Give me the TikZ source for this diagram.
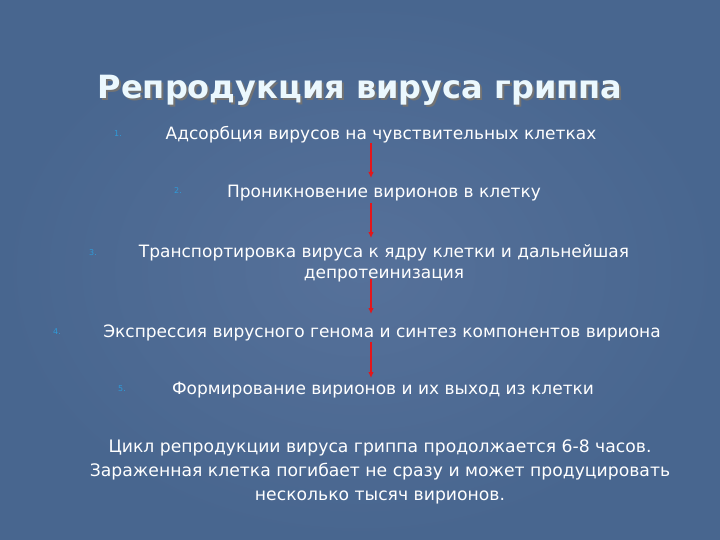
\documentclass[tikz,border=0pt]{standalone}
\usepackage{fontspec}
\setmainfont{DejaVu Sans}
\usetikzlibrary{arrows.meta}

\definecolor{bgin}{HTML}{56719A}
\definecolor{bgout}{HTML}{48668F}
\definecolor{numblue}{HTML}{2F9AD8}
\definecolor{arrred}{HTML}{E3161B}

\begin{document}
\begin{tikzpicture}
  [x=1pt,y=-1pt,
   every node/.style={text=white,inner sep=0pt,anchor=base},
   stage/.style={font=\fontsize{17}{21}\selectfont,align=center},
   note/.style={font=\fontsize{17.2}{24}\selectfont,align=center},
   num/.style={text=numblue,font=\fontsize{8}{9}\selectfont},
   flow/.style={draw=arrred,line width=2.4pt,-{Latex[length=6pt,width=5.5pt]}}]
  \useasboundingbox (0,0) rectangle (720,540);
  \shade[inner color=bgin,outer color=bgout] (0,0) rectangle (720,540);

  \node[font=\fontsize{32}{36}\selectfont\bfseries,text=black!55] (shadow) at (362,101) {Репродукция вируса гриппа};
  \node[font=\fontsize{32}{36}\selectfont\bfseries,text=white!92!cyan] (title) at (360,99) {Репродукция вируса гриппа};

  \node[stage] (s1) at (381,140) {Адсорбция вирусов на чувствительных клетках};
  \node[stage] (s2) at (384,197) {Проникновение вирионов в клетку};
  \node[stage] (s3) at (384,278) {Транспортировка вируса к ядру клетки и дальнейшая\\депротеинизация};
  \node[stage] (s4) at (382,337) {Экспрессия вирусного генома и синтез компонентов вириона};
  \node[stage] (s5) at (383,394) {Формирование вирионов и их выход из клетки};

  \node[num] (n1) at (118,137) {1.};
  \node[num] (n2) at (178,194) {2.};
  \node[num] (n3) at (93,255) {3.};
  \node[num] (n4) at (57,334) {4.};
  \node[num] (n5) at (122,391) {5.};

  \node[note] (summary) at (380,500) {Цикл репродукции вируса гриппа продолжается 6-8 часов.\\Зараженная клетка погибает не сразу и может продуцировать\\несколько тысяч вирионов.};

  \coordinate (t1) at (371,143);
  \coordinate (h1) at (371,178);
  \coordinate (t2) at (371,203);
  \coordinate (h2) at (371,238);
  \coordinate (t3) at (371,279);
  \coordinate (h3) at (371,314);
  \coordinate (t4) at (371,342);
  \coordinate (h4) at (371,378);

  \foreach \from/\to in {t1/h1, t2/h2, t3/h3, t4/h4}
    \draw [flow] (\from) -- (\to);

\end{tikzpicture}
\end{document}
